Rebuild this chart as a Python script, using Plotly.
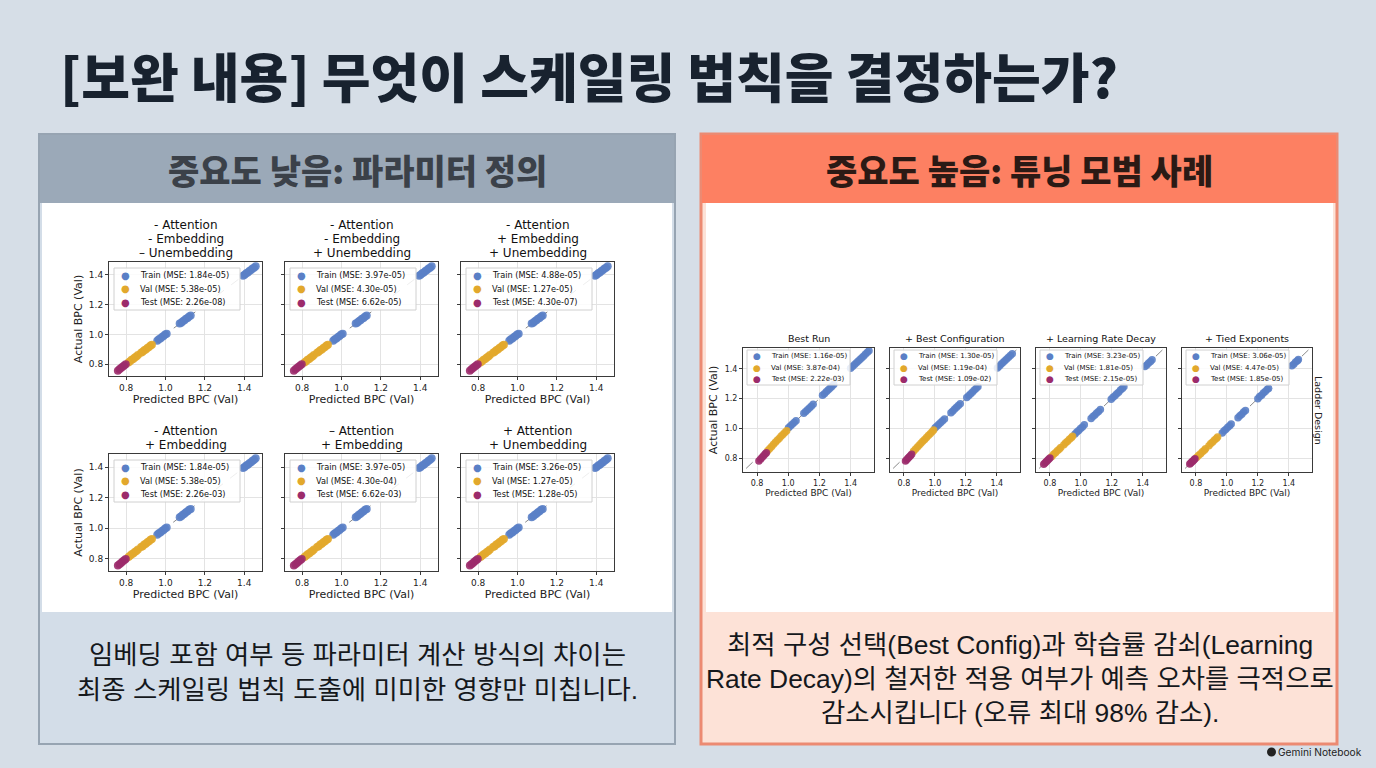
import plotly.graph_objects as go

W, H = 1376, 768

# ---------------- data ----------------
# left side: parameter definition ablations (all six panels look alike)
LEFT_TITLES = [
    ["- Attention", "- Embedding", "– Unembedding"],
    ["- Attention", "- Embedding", "+ Unembedding"],
    ["- Attention", "+ Embedding", "+ Unembedding"],
    ["- Attention", "+ Embedding"],
    ["– Attention", "+ Embedding"],
    ["+ Attention", "+ Unembedding"],
]
LEFT_MSE = [
    ("1.84e-05", "5.38e-05", "2.26e-08"),
    ("3.97e-05", "4.30e-05", "6.62e-05"),
    ("4.88e-05", "1.27e-05", "4.30e-07"),
    ("1.84e-05", "5.38e-05", "2.26e-03"),
    ("3.97e-05", "4.30e-04", "6.62e-03"),
    ("3.26e-05", "1.27e-05", "1.28e-05"),
]
LEFT_TEST_X = [0.758, 0.766, 0.774, 0.782, 0.790, 0.798]
LEFT_TEST_Y = [0.756, 0.765, 0.773, 0.782, 0.791, 0.799]
LEFT_VAL_X = [0.812, 0.820, 0.828, 0.836, 0.844, 0.852, 0.860,
              0.876, 0.884, 0.892, 0.900, 0.908, 0.916, 0.924, 0.931]
LEFT_VAL_Y = [0.811, 0.820, 0.829, 0.835, 0.845, 0.851, 0.861,
              0.877, 0.883, 0.893, 0.899, 0.909, 0.915, 0.925, 0.930]
LEFT_TRAIN_X = [0.958, 0.966, 0.974, 0.982, 0.990, 0.998, 1.006,
                1.072, 1.080, 1.088, 1.096, 1.104, 1.112, 1.120, 1.128,
                1.394, 1.402, 1.410, 1.418, 1.426, 1.434, 1.442, 1.450, 1.458]
LEFT_TRAIN_Y = [0.957, 0.967, 0.973, 0.983, 0.989, 0.999, 1.005,
                1.073, 1.079, 1.089, 1.095, 1.105, 1.111, 1.121, 1.127,
                1.395, 1.401, 1.411, 1.417, 1.427, 1.433, 1.443, 1.449, 1.459]
LEFT_IDEAL = [0.75, 1.47]

# right side: tuning best practices
RIGHT_TITLES = ["Best Run", "+ Best Configuration", "+ Learning Rate Decay", "+ Tied Exponents"]
RIGHT_MSE = [
    ("1.16e-05", "3.87e-04", "2.22e-03"),
    ("1.30e-05", "1.19e-04", "1.09e-02"),
    ("3.23e-05", "1.81e-05", "2.15e-05"),
    ("3.06e-05", "4.47e-05", "1.85e-05"),
]
RUN_TEST_X = [0.812, 0.822, 0.832, 0.842, 0.852, 0.860]
RUN_TEST_Y = [0.780, 0.792, 0.804, 0.815, 0.827, 0.836]
RUN_VAL_X = [0.870, 0.882, 0.894, 0.906, 0.918, 0.930, 0.942, 0.954, 0.966, 0.978, 0.990]
RUN_VAL_Y = [0.850, 0.864, 0.878, 0.892, 0.906, 0.919, 0.932, 0.946, 0.958, 0.971, 0.984]
RUN_TRAIN_X = [1.002, 1.014, 1.026, 1.038, 1.050, 1.100, 1.112, 1.124, 1.136, 1.148, 1.160,
               1.220, 1.232, 1.244, 1.256, 1.268, 1.280, 1.292,
               1.400, 1.412, 1.424, 1.436, 1.448, 1.460, 1.472, 1.484, 1.496, 1.508, 1.518]
RUN_TRAIN_Y = [1.004, 1.015, 1.027, 1.039, 1.051, 1.101, 1.113, 1.125, 1.137, 1.149, 1.161,
               1.222, 1.233, 1.246, 1.257, 1.270, 1.281, 1.294,
               1.404, 1.415, 1.427, 1.439, 1.451, 1.463, 1.475, 1.487, 1.499, 1.511, 1.521]

CFG_TEST_X = [0.810, 0.818, 0.826, 0.834, 0.842, 0.850]
CFG_TEST_Y = [0.780, 0.789, 0.798, 0.807, 0.816, 0.825]
CFG_VAL_X = [0.862, 0.874, 0.886, 0.898, 0.910, 0.922, 0.934, 0.946, 0.958, 0.970, 0.982, 0.992]
CFG_VAL_Y = [0.846, 0.859, 0.873, 0.886, 0.899, 0.912, 0.925, 0.938, 0.951, 0.964, 0.977, 0.988]
CFG_TRAIN_X = [1.002, 1.014, 1.026, 1.038, 1.050, 1.062, 1.104, 1.116, 1.128, 1.140, 1.152, 1.164,
               1.206, 1.218, 1.230, 1.242, 1.254, 1.266, 1.278,
               1.404, 1.416, 1.428, 1.440, 1.452, 1.464, 1.476, 1.488, 1.500]
CFG_TRAIN_Y = [1.003, 1.015, 1.027, 1.039, 1.051, 1.063, 1.105, 1.117, 1.129, 1.141, 1.153, 1.165,
               1.207, 1.219, 1.231, 1.243, 1.255, 1.267, 1.279,
               1.406, 1.418, 1.430, 1.442, 1.454, 1.466, 1.478, 1.490, 1.502]

LRD_TEST_X = [0.760, 0.768, 0.776, 0.784, 0.792, 0.800]
LRD_TEST_Y = [0.758, 0.767, 0.775, 0.784, 0.792, 0.801]
LRD_VAL_X = [0.812, 0.824, 0.836, 0.848, 0.860, 0.870, 0.890, 0.902, 0.914, 0.926, 0.938, 0.946]
LRD_VAL_Y = [0.811, 0.825, 0.835, 0.849, 0.859, 0.871, 0.889, 0.903, 0.913, 0.927, 0.937, 0.947]
LRD_TRAIN_X = [0.962, 0.974, 0.986, 0.998, 1.010, 1.022, 1.066, 1.078, 1.090, 1.102, 1.114, 1.126,
               1.196, 1.208, 1.220, 1.232, 1.244, 1.256, 1.268, 1.278,
               1.414, 1.426, 1.438, 1.450, 1.460]
LRD_TRAIN_Y = [0.961, 0.975, 0.985, 0.999, 1.009, 1.023, 1.065, 1.079, 1.089, 1.103, 1.113, 1.127,
               1.195, 1.209, 1.219, 1.233, 1.243, 1.257, 1.267, 1.279,
               1.415, 1.425, 1.439, 1.449, 1.461]

TIED_TEST_X = [0.760, 0.767, 0.774, 0.781, 0.788, 0.794]
TIED_TEST_Y = [0.759, 0.766, 0.775, 0.780, 0.789, 0.795]
TIED_VAL_X = [0.806, 0.818, 0.830, 0.842, 0.854, 0.862, 0.884, 0.896, 0.908, 0.920, 0.932, 0.940]
TIED_VAL_Y = [0.805, 0.819, 0.829, 0.843, 0.853, 0.863, 0.883, 0.897, 0.907, 0.921, 0.931, 0.941]
TIED_TRAIN_X = [0.970, 0.982, 0.994, 1.006, 1.018, 1.028, 1.072, 1.084, 1.096, 1.108, 1.120,
                1.200, 1.212, 1.224, 1.236, 1.248, 1.260, 1.270,
                1.420, 1.432, 1.444, 1.456, 1.462]
TIED_TRAIN_Y = [0.969, 0.983, 0.993, 1.007, 1.017, 1.029, 1.071, 1.085, 1.095, 1.109, 1.119,
                1.199, 1.213, 1.223, 1.237, 1.247, 1.261, 1.269,
                1.421, 1.431, 1.445, 1.455, 1.463]
RIGHT_IDEAL = [0.73, 1.53]

RIGHT_DATA = [
    (RUN_TRAIN_X, RUN_TRAIN_Y, RUN_VAL_X, RUN_VAL_Y, RUN_TEST_X, RUN_TEST_Y),
    (CFG_TRAIN_X, CFG_TRAIN_Y, CFG_VAL_X, CFG_VAL_Y, CFG_TEST_X, CFG_TEST_Y),
    (LRD_TRAIN_X, LRD_TRAIN_Y, LRD_VAL_X, LRD_VAL_Y, LRD_TEST_X, LRD_TEST_Y),
    (TIED_TRAIN_X, TIED_TRAIN_Y, TIED_VAL_X, TIED_VAL_Y, TIED_TEST_X, TIED_TEST_Y),
]

SLIDE_TITLE = "[보완 내용] 무엇이 스케일링 법칙을 결정하는가?"
LEFT_HEADER = "중요도 낮음: 파라미터 정의"
RIGHT_HEADER = "중요도 높음: 튜닝 모범 사례"
LEFT_NOTE = ["임베딩 포함 여부 등 파라미터 계산 방식의 차이는",
             "최종 스케일링 법칙 도출에 미미한 영향만 미칩니다."]
RIGHT_NOTE = ["최적 구성 선택(Best Config)과 학습률 감쇠(Learning",
              "Rate Decay)의 철저한 적용 여부가 예측 오차를 극적으로",
              "감소시킵니다 (오류 최대 98% 감소)."]

# ---------------- style ----------------
BLUE, GOLD, PLUM = "#5a7fc6", "#e2a82c", "#9c2b6b"
KR = "Noto Sans CJK KR"
BODY = "Liberation Sans, Noto Sans CJK KR"
MPL = "DejaVu Sans"


def fx(p):
    return p / W


def fy(p):
    return 1 - p / H


fig = go.Figure()
shapes, annots, axes = [], [], {}

# panel backgrounds
shapes += [
    dict(type="rect", x0=fx(39), x1=fx(675), y0=fy(134), y1=fy(744),
         fillcolor="#d3dde8", line=dict(color="#97a4b2", width=2)),
    dict(type="rect", x0=fx(40), x1=fx(674), y0=fy(135), y1=fy(203),
         fillcolor="#9ba9b8", line=dict(width=0)),
    dict(type="rect", x0=fx(42), x1=fx(672), y0=fy(203), y1=fy(612),
         fillcolor="white", line=dict(width=0)),
    dict(type="rect", x0=fx(701), x1=fx(1337), y0=fy(134), y1=fy(744),
         fillcolor="#fde2d7", line=dict(color="#ec8a72", width=3)),
    dict(type="rect", x0=fx(702), x1=fx(1336), y0=fy(135), y1=fy(203),
         fillcolor="#fd8062", line=dict(width=0)),
    dict(type="rect", x0=fx(706), x1=fx(1333), y0=fy(203), y1=fy(612),
         fillcolor="white", line=dict(width=0)),
    # small logo mark next to the watermark
    dict(type="circle", x0=fx(1267), x1=fx(1276), y0=fy(756.5), y1=fy(747.5),
         fillcolor="#222", line=dict(width=0)),
]
for s in shapes:
    s.update(xref="paper", yref="paper", layer="below")

# subplot boxes in pixels: (x0, x1, y0, y1)
cells = []
LCOLS = [(109, 262), (285, 438), (461, 614)]
LROWS = [(262, 376), (454, 571)]
for r, (y0, y1) in enumerate(LROWS):
    for c, (x0, x1) in enumerate(LCOLS):
        k = r * 3 + c
        cells.append(dict(box=(x0, x1, y0, y1), side="L", first=(c == 0),
                          title=LEFT_TITLES[k], mse=LEFT_MSE[k],
                          data=(LEFT_TRAIN_X, LEFT_TRAIN_Y, LEFT_VAL_X, LEFT_VAL_Y,
                                LEFT_TEST_X, LEFT_TEST_Y)))
RCOLS = [(743, 874), (890, 1020), (1036, 1166), (1182, 1312)]
for c, (x0, x1) in enumerate(RCOLS):
    cells.append(dict(box=(x0, x1, 348, 472), side="R", first=(c == 0),
                      title=[RIGHT_TITLES[c]], mse=RIGHT_MSE[c], data=RIGHT_DATA[c]))

for i, cell in enumerate(cells, start=1):
    x0, x1, y0, y1 = cell["box"]
    left = cell["side"] == "L"
    sfx = "" if i == 1 else str(i)
    ideal = LEFT_IDEAL if left else RIGHT_IDEAL
    trx, tr_y, vx, vy, tx, ty = cell["data"]
    msize = 8 if left else 7.5

    fig.add_trace(go.Scatter(x=ideal, y=ideal, mode="lines", xaxis="x" + sfx, yaxis="y" + sfx,
                             line=dict(color="#8a8a8a", width=1, dash="dash"), showlegend=False))
    for xs, ys, col in [(trx, tr_y, BLUE), (vx, vy, GOLD), (tx, ty, PLUM)]:
        fig.add_trace(go.Scatter(x=xs, y=ys, mode="markers", xaxis="x" + sfx, yaxis="y" + sfx,
                                 marker=dict(size=msize, color=col, opacity=0.9, line=dict(width=0)),
                                 showlegend=False))

    rng = [0.713, 1.49] if left else [0.71, 1.55]
    yrng = [0.72, 1.487] if left else [0.706, 1.54]
    tick_fs = 9 if left else 8
    lab_fs = 11 if left else 9
    common = dict(tickvals=[0.8, 1.0, 1.2, 1.4], ticktext=["0.8", "1.0", "1.2", "1.4"],
                  showgrid=True, gridcolor="#e3e3e3", gridwidth=1, zeroline=False,
                  showline=True, linecolor="#3a3a3a", linewidth=1, mirror=True,
                  ticks="outside", ticklen=3, tickcolor="#3a3a3a",
                  tickfont=dict(family=MPL, size=tick_fs, color="#222"))
    axes["xaxis" + sfx] = dict(common, domain=[fx(x0), fx(x1)], range=rng, anchor="y" + sfx,
                               title=dict(text="Predicted BPC (Val)", standoff=3,
                                          font=dict(family=MPL, size=lab_fs, color="#222")))
    yax = dict(common, domain=[fy(y1), fy(y0)], range=yrng, anchor="x" + sfx,
               showticklabels=cell["first"])
    if cell["first"]:
        yax["title"] = dict(text="Actual BPC (Val)", standoff=4,
                            font=dict(family=MPL, size=11, color="#222"))
    axes["yaxis" + sfx] = yax

    # subplot title lines
    lines = cell["title"]
    step = 14
    last = y0 - (9 if left else 10)
    for j, t in enumerate(lines):
        yy = last - step * (len(lines) - 1 - j)
        annots.append(dict(text=t, x=fx((x0 + x1) / 2), y=fy(yy), xanchor="center", yanchor="middle",
                           font=dict(family=MPL, size=12 if left else 9.5, color="#111")))

    # legend box
    if left:
        bx0, bx1, by0, by1 = x0 + 5, x0 + 131, y0 + 6, y0 + 48
        rows = [y0 + 13, y0 + 26.5, y0 + 40]
        mx, tx0, lfs, dot = x0 + 16, x0 + 29, 8.2, 10
    else:
        bx0, bx1, by0, by1 = x0 + 4, x0 + 107, y0 + 2, y0 + 37
        rows = [y0 + 8, y0 + 19.5, y0 + 31]
        mx, tx0, lfs, dot = x0 + 14, x0 + 26, 7, 9
    shapes.append(dict(type="rect", xref="paper", yref="paper", layer="above",
                       x0=fx(bx0), x1=fx(bx1), y0=fy(by0), y1=fy(by1),
                       fillcolor="rgba(255,255,255,0.85)", line=dict(color="#d0d0d0", width=1)))
    for yy, name, mse, col in zip(rows, ["Train", "Val", "Test"], cell["mse"], [BLUE, GOLD, PLUM]):
        annots.append(dict(text="●", x=fx(mx), y=fy(yy), xanchor="center", yanchor="middle",
                           font=dict(family=MPL, size=dot, color=col)))
        annots.append(dict(text=f"{name} (MSE: {mse})", x=fx(tx0), y=fy(yy), xanchor="left",
                           yanchor="middle", font=dict(family=MPL, size=lfs, color="#111")))

# slide text
annots.append(dict(text=SLIDE_TITLE, x=fx(58), y=fy(75), xanchor="left", yanchor="middle",
                   font=dict(family=KR, size=53, color="#18222f", weight=900)))
annots.append(dict(text=LEFT_HEADER, x=fx(357), y=fy(170), xanchor="center", yanchor="middle",
                   font=dict(family=KR, size=34, color="#3b4149", weight=900)))
annots.append(dict(text=RIGHT_HEADER, x=fx(1019), y=fy(170), xanchor="center", yanchor="middle",
                   font=dict(family=KR, size=34, color="#2b1a15", weight=900)))
for t, yy in zip(LEFT_NOTE, [655, 690]):
    annots.append(dict(text=t, x=fx(357), y=fy(yy), xanchor="center", yanchor="middle",
                       font=dict(family=BODY, size=26.4, color="#15181c")))
for t, yy in zip(RIGHT_NOTE, [645, 679, 713]):
    annots.append(dict(text=t, x=fx(1020), y=fy(yy), xanchor="center", yanchor="middle",
                       font=dict(family=BODY, size=26.4, color="#15181c")))
annots.append(dict(text="Ladder Design", x=fx(1319), y=fy(410), textangle=90,
                   xanchor="center", yanchor="middle", font=dict(family=MPL, size=9.5, color="#222")))
annots.append(dict(text="Gemini Notebook", x=fx(1364), y=fy(752), xanchor="right", yanchor="middle",
                   font=dict(family="Inter", size=10.2, color="#222")))
for a in annots:
    a.update(xref="paper", yref="paper", showarrow=False)

fig.update_layout(
    width=W, height=H,
    margin=dict(l=0, r=0, t=0, b=0),
    paper_bgcolor="#d6dee7",
    plot_bgcolor="white",
    showlegend=False,
    shapes=shapes,
    annotations=annots,
    **axes,
)

fig.write_html("out.html", config={"displayModeBar": False},
               post_script="document.body.style.margin='0';")
